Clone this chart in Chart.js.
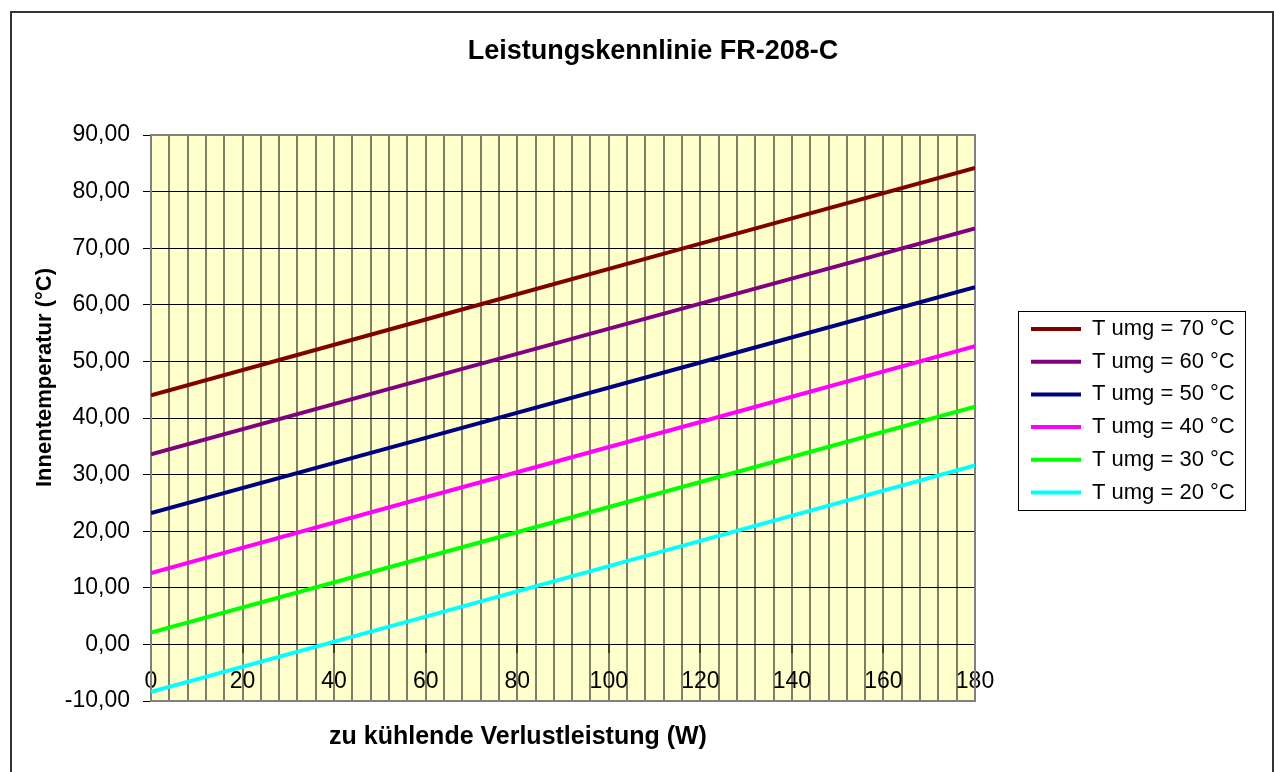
<!DOCTYPE html>
<html lang="de">
<head>
<meta charset="utf-8">
<title>Leistungskennlinie FR-208-C</title>
<script src="https://cdn.jsdelivr.net/npm/chart.js"></script>
<style>
  html, body { margin: 0; padding: 0; background: #fff; overflow: hidden; }
  #chart { display: block; }
</style>
</head>
<body>
<canvas id="chart" width="1274" height="772"></canvas>
<script>
// x-Werte: zu kuehlende Verlustleistung in W
var leistung = [0, 60, 120, 180];

// Innentemperatur in °C
var tUmg70 = [44.0, 57.4, 70.8, 84.2];
var tUmg60 = [33.6, 46.9, 60.2, 73.5];
var tUmg50 = [23.2, 36.5, 49.8, 63.1];
var tUmg40 = [12.6, 26.0, 39.3, 52.7];
var tUmg30 = [2.1, 15.4, 28.7, 42.0];
var tUmg20 = [-8.4, 4.9, 18.3, 31.6];

var serienNamen = ['T umg = 70 °C', 'T umg = 60 °C', 'T umg = 50 °C', 'T umg = 40 °C', 'T umg = 30 °C', 'T umg = 20 °C'];

// Achsen
var yMin = -10, yMax = 90, yStep = 10;
var xMin = 0, xMax = 180, xGridStep = 4, xLabelStep = 20;

var titel = 'Leistungskennlinie FR-208-C';
var xTitel = 'zu kühlende Verlustleistung (W)';
var yTitel = 'Innentemperatur (°C)';

var farben = ['#800000', '#800080', '#000080', '#ff00ff', '#00ff00', '#00ffff'];
var FONT = "'Liberation Sans', Arial, sans-serif";

Chart.defaults.font.family = FONT;
Chart.defaults.color = '#000';

var serien = [tUmg70, tUmg60, tUmg50, tUmg40, tUmg30, tUmg20];
var datasets = serien.map(function (werte, i) {
    return {
        label: serienNamen[i],
        data: leistung.map(function (x, j) { return { x: x, y: werte[j] }; }),
        borderColor: farben[i],
        backgroundColor: farben[i],
        borderWidth: 4,
        pointRadius: 0,
        tension: 0,
        fill: false
    };
});

// Hintergrund, Rahmen, Legendenrahmen, Achsentitel
var rahmen = {
    id: 'rahmen',
    beforeDraw: function (chart) {
        var ctx = chart.ctx, a = chart.chartArea;
        ctx.save();
        ctx.fillStyle = '#fff';
        ctx.fillRect(0, 0, chart.width, chart.height);
        ctx.strokeStyle = '#333';
        ctx.lineWidth = 2;
        ctx.strokeRect(11, 12, 1262, 800);
        ctx.fillStyle = '#ffffcc';
        ctx.fillRect(a.left, a.top, a.right - a.left, a.bottom - a.top);
        ctx.restore();
    },
    afterLayout: function (chart) {
        var lg = chart.legend;
        lg.left = 1020.3;
        lg.top = 307.3;
        lg.right = 1270;
        lg.bottom = 560;
        lg.width = lg.right - lg.left;
        lg.height = lg.bottom - lg.top;
    },
    beforeDatasetsDraw: function (chart) {
        var ctx = chart.ctx, a = chart.chartArea;
        ctx.save();
        ctx.strokeStyle = '#808080';
        ctx.lineWidth = 2;
        ctx.strokeRect(a.left, a.top, a.right - a.left, a.bottom - a.top);
        ctx.restore();
    },
    afterDraw: function (chart) {
        var ctx = chart.ctx;
        ctx.save();
        ctx.strokeStyle = '#000';
        ctx.lineWidth = 1;
        ctx.strokeRect(1018.5, 311.5, 227, 199);

        ctx.fillStyle = '#000';
        ctx.textAlign = 'center';
        ctx.textBaseline = 'middle';
        ctx.font = 'bold 25px ' + FONT;
        ctx.fillText(xTitel, 518, 737);

        ctx.translate(45, 377.5);
        ctx.rotate(-Math.PI / 2);
        ctx.font = 'bold 22px ' + FONT;
        ctx.fillText(yTitel, 0, 0);
        ctx.restore();
    }
};

new Chart(document.getElementById('chart'), {
    type: 'line',
    data: { datasets: datasets },
    options: {
        responsive: false,
        animation: false,
        layout: { padding: { left: 32, right: 0, top: 0, bottom: 71 } },
        scales: {
            x: {
                type: 'linear',
                position: { y: 0 },
                min: xMin,
                max: xMax,
                afterFit: function (scale) { scale.height = 28; },
                ticks: {
                    stepSize: xGridStep,
                    autoSkip: false,
                    maxRotation: 0,
                    padding: 15.5,
                    font: { size: 23 },
                    color: '#000',
                    callback: function (v) { return v % xLabelStep === 0 ? String(v) : ''; }
                },
                grid: {
                    color: 'rgba(0,0,0,0.5)',
                    lineWidth: 2,
                    tickLength: 8,
                    tickWidth: 1,
                    tickColor: function (c) { return c.tick && c.tick.value % xLabelStep === 0 ? '#000' : 'rgba(0,0,0,0)'; }
                },
                border: { display: true, color: '#000', width: 1 }
            },
            y: {
                type: 'linear',
                position: 'left',
                min: yMin,
                max: yMax,
                afterFit: function (scale) { scale.width = 119; },
                ticks: {
                    stepSize: yStep,
                    padding: 13,
                    font: { size: 23 },
                    color: '#000',
                    callback: function (v) { return v.toFixed(2).replace('.', ','); }
                },
                grid: { color: '#000', lineWidth: 1, tickLength: 8, tickColor: '#000' },
                border: { display: true, color: '#808080', width: 2 }
            },
            yRand: {
                type: 'linear',
                position: 'right',
                display: true,
                afterFit: function (scale) { scale.width = 299; },
                ticks: { display: false },
                grid: { display: false },
                border: { display: false }
            }
        },
        plugins: {
            title: {
                display: true,
                text: titel,
                font: { size: 27, weight: 'bold' },
                color: '#000',
                padding: { top: 35.8, bottom: 66.8 }
            },
            legend: {
                display: true,
                position: 'chartArea',
                align: 'start',
                labels: {
                    usePointStyle: true,
                    pointStyle: 'line',
                    pointStyleWidth: 50,
                    padding: 10.7,
                    color: '#000',
                    font: { size: 22 }
                }
            },
            tooltip: { enabled: false }
        }
    },
    plugins: [rahmen]
});
</script>
</body>
</html>
